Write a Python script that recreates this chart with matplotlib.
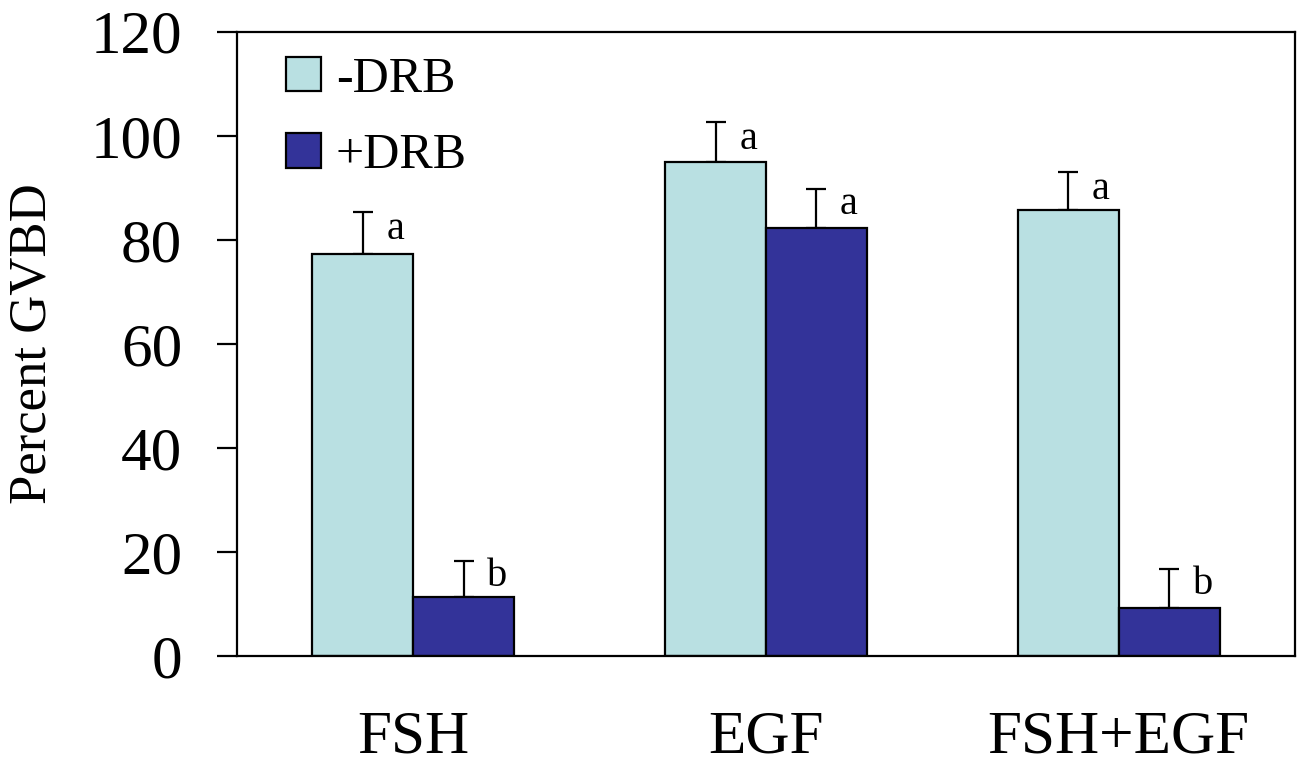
import matplotlib
matplotlib.use("Agg")
import matplotlib.pyplot as plt
import numpy as np

categories = ["FSH", "EGF", "FSH+EGF"]
series_names = ["-DRB", "+DRB"]
minus_drb = [77.2, 95.0, 85.8]
minus_err = [8.2, 7.7, 7.3]
plus_drb = [11.4, 82.3, 9.2]
plus_err = [6.9, 7.4, 7.5]
minus_letters = ["a", "a", "a"]
plus_letters = ["b", "a", "b"]
yticks = [0, 20, 40, 60, 80, 100, 120]

plt.rcParams['font.family'] = ['Liberation Serif', 'DejaVu Serif']

W, H = 1303, 774
fig = plt.figure(figsize=(W / 100, H / 100), dpi=100)
ax_left, ax_right, ax_top, ax_bottom = 237, 1295, 31.7, 656
ax = fig.add_axes([ax_left / W, 1 - ax_bottom / H, (ax_right - ax_left) / W, (ax_bottom - ax_top) / H])

c_minus = "#B9E0E2"
c_plus = "#333399"
x = np.arange(len(categories))
w = 0.286

b1 = ax.bar(x - w / 2, minus_drb, w, color=c_minus, edgecolor="black", linewidth=1.6, label=series_names[0], zorder=2)
b2 = ax.bar(x + w / 2, plus_drb, w, color=c_plus, edgecolor="black", linewidth=1.6, label=series_names[1], zorder=2)

ax.errorbar(x - w / 2, minus_drb, yerr=[np.zeros(3), minus_err], fmt="none", ecolor="black",
            elinewidth=1.6, capsize=7, capthick=1.6, zorder=1)
ax.errorbar(x + w / 2, plus_drb, yerr=[np.zeros(3), plus_err], fmt="none", ecolor="black",
            elinewidth=1.6, capsize=7, capthick=1.6, zorder=1)

for xi, v, e, t in zip(x - w / 2, minus_drb, minus_err, minus_letters):
    ax.annotate(t, xy=(xi, v + e), xytext=(17, -20), textcoords="offset points",
                ha="left", va="baseline", fontsize=29)
for xi, v, e, t in zip(x + w / 2, plus_drb, plus_err, plus_letters):
    ax.annotate(t, xy=(xi, v + e), xytext=(17, -18), textcoords="offset points",
                ha="left", va="baseline", fontsize=29)

ax.set_xlim(-0.5, 2.5)
ax.set_ylim(0, 120)
ax.set_yticks(yticks)
ax.set_yticklabels([str(t) for t in yticks], fontsize=44)
ax.set_xticks(x)
ax.set_xticklabels(categories, fontsize=44)
ax.tick_params(axis="y", direction="out", length=14.4, width=1.6, pad=25)
ax.tick_params(axis="x", length=0, pad=39)
for s in ax.spines.values():
    s.set_linewidth(1.6)

ax.set_ylabel("Percent GVBD", fontsize=38, va="center")
ax.yaxis.set_label_coords((33 - ax_left) / (ax_right - ax_left), 0.5)

fs_leg = 36
leg = ax.legend(loc="upper left", bbox_to_anchor=((286 - ax_left) / (ax_right - ax_left), 1 - (56 - ax_top) / (ax_bottom - ax_top)),
                frameon=False, fontsize=fs_leg, handlelength=0.70, handleheight=0.68,
                handletextpad=0.3, labelspacing=0.6, borderpad=0, borderaxespad=0)

fig.savefig("out.png", dpi=100)
